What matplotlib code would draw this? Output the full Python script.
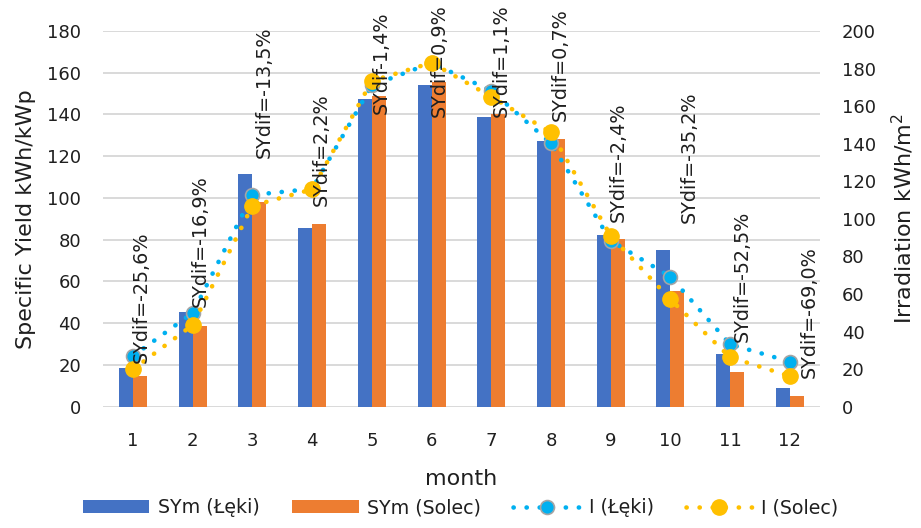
import numpy as np
import matplotlib
matplotlib.use("Agg")
import matplotlib.pyplot as plt

plt.rcParams['font.family'] = ['DejaVu Sans']

months = [1, 2, 3, 4, 5, 6, 7, 8, 9, 10, 11, 12]
sy_leki = [18.7, 45.2, 111.3, 85.8, 147.3, 154.2, 138.7, 127.5, 82.1, 75.1, 25.2, 8.8]
sy_solec = [14.7, 38.8, 98.2, 87.7, 149.0, 155.5, 140.0, 128.3, 80.2, 55.4, 16.8, 5.1]
irr_leki = [27.0, 50.0, 112.7, 116.0, 171.0, 183.0, 168.2, 140.2, 88.4, 69.2, 33.2, 24.0]
irr_solec = [19.9, 43.5, 107.0, 115.7, 173.4, 183.1, 165.0, 146.0, 91.0, 57.1, 26.3, 16.3]
sydif = ["SYdif=-25,6%", "SYdif=-16,9%", "SYdif=-13,5%", "SYdif=2,2%", "SYdif-1,4%",
         "SYdif=0,9%", "SYdif=1,1%", "SYdif=0,7%", "SYdif=-2,4%", "SYdif=-35,2%",
         "SYdif=-52,5%", "SYdif=-69,0%"]
# where the rotated labels start (left axis units) and their shift right of the month
lab_y = [21, 47.7, 119, 96, 140, 138.6, 138.6, 136.7, 88.6, 88, 31, 13.8]
lab_dx = [0.13, 0.12, 0.2, 0.15, 0.15, 0.13, 0.16, 0.15, 0.13, 0.32, 0.2, 0.32]

x = np.array(months)
w = 0.235
txt = '#1f1f1f'

fig = plt.figure(figsize=(9.21, 5.28), dpi=100)
ax = fig.add_axes([0.112, 0.2297, 0.778, 0.7116])
ax2 = ax.twinx()

ax.bar(x - w/2, sy_leki, w, color='#4472C4', label='SYm (Łęki)', zorder=2)
ax.bar(x + w/2, sy_solec, w, color='#ED7D31', label='SYm (Solec)', zorder=2)
ax.set_ylim(0, 180)
ax.set_yticks(range(0, 181, 20))
ax.set_xlim(0.5, 12.5)
ax.set_xticks(months)
ax.grid(axis='y', color='#D9D9D9', linewidth=1.4, zorder=0)
ax.set_axisbelow(True)

dots = (0, (0.05, 2.8))
ax2.plot(x, irr_leki, linestyle=dots, dash_capstyle='round', color='#00B0F0',
         linewidth=3.3, marker='o', markersize=10, markerfacecolor='#00B0F0',
         markeredgecolor='#A5A5A5', markeredgewidth=1.2, label='I (Łęki)', zorder=3)
ax2.plot(x, irr_solec, linestyle=dots, dash_capstyle='round', color='#FFC000',
         linewidth=3.3, marker='o', markersize=11, markerfacecolor='#FFC000',
         markeredgecolor='#FFC000', label='I (Solec)', zorder=3)
ax2.set_ylim(0, 200)
ax2.set_yticks(range(0, 201, 20))

for a in (ax, ax2):
    for s in a.spines.values():
        s.set_visible(False)
    a.tick_params(length=0, labelsize=13, colors=txt)
ax.tick_params(axis='x', pad=18)
ax.tick_params(axis='y', pad=16)
ax2.tick_params(axis='y', pad=16)

ax.set_ylabel('Specific Yield kWh/kWp', fontsize=16, color=txt, labelpad=8)
ax2.set_ylabel('Irradiation kWh/m$^2$', fontsize=16, color=txt, labelpad=10)
ax.set_xlabel('month', fontsize=16, color=txt)
ax.xaxis.set_label_coords(0.5, -0.165)

for i in range(12):
    ax2.text(months[i] + lab_dx[i], lab_y[i] * 200 / 180, sydif[i], rotation=90,
             ha='center', va='bottom', fontsize=13.8, color=txt, zorder=5)

h1, l1 = ax.get_legend_handles_labels()
h2, l2 = ax2.get_legend_handles_labels()
fig.legend(h1 + h2, l1 + l2, loc='lower center', bbox_to_anchor=(0.5, -0.012), ncol=4,
           frameon=False, fontsize=13.7, handlelength=3.5, columnspacing=1.7,
           handletextpad=0.45, labelcolor=txt)

fig.savefig('out.png', dpi=100)
